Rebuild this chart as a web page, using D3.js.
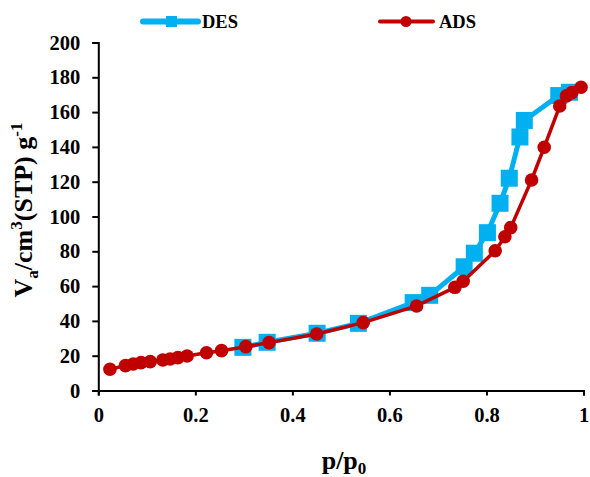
<!DOCTYPE html>
<html>
<head>
<meta charset="utf-8">
<script src="https://cdn.jsdelivr.net/npm/d3@7/dist/d3.min.js"></script>
<style>
  html, body { margin: 0; padding: 0; background: #fff; }
  svg text { font-family: "Liberation Serif", "Times New Roman", serif; font-weight: bold; }
</style>
</head>
<body>
<script>
// Data
const adsX = [0.024, 0.056, 0.072, 0.088, 0.107, 0.133, 0.148, 0.164, 0.183, 0.223, 0.254, 0.304, 0.352, 0.450, 0.546, 0.656, 0.735, 0.752, 0.818, 0.838, 0.850, 0.893, 0.919, 0.951, 0.965, 0.976, 0.995];
const adsY = [12.2, 14.3, 15.2, 16.0, 16.6, 17.5, 18.1, 18.9, 19.8, 21.7, 22.9, 25.2, 27.5, 32.5, 39.0, 48.6, 59.3, 62.8, 80.3, 88.4, 93.6, 121.0, 139.8, 163.5, 169.3, 171.2, 174.3];
const desX = [0.298, 0.348, 0.451, 0.536, 0.649, 0.683, 0.754, 0.775, 0.802, 0.828, 0.847, 0.869, 0.878, 0.949, 0.971];
const desY = [24.8, 27.7, 32.9, 38.6, 50.5, 54.7, 71.1, 78.9, 90.7, 107.6, 122.0, 145.7, 155.2, 169.5, 171.4];
const xTicks = [0, 0.2, 0.4, 0.6, 0.8, 1];
const xTickLabels = ["0", "0.2", "0.4", "0.6", "0.8", "1"];
const yTicks = [0, 20, 40, 60, 80, 100, 120, 140, 160, 180, 200];
const seriesNames = ["DES", "ADS"];
const seriesColors = ["#00B0F0", "#C00000"];

const W = 590, H = 477;
const margin = { left: 98.3, right: 6.5, top: 42.5, bottom: 86.5 };
const svg = d3.select("body").append("svg").attr("width", W).attr("height", H);

const x = d3.scaleLinear().domain([0, 1]).range([margin.left, W - margin.right]);
const y = d3.scaleLinear().domain([0, 200]).range([H - margin.bottom, margin.top]);

// axes
const xAxis = d3.axisBottom(x).tickValues(xTicks).tickFormat((d, i) => xTickLabels[i]).tickSize(5).tickSizeOuter(5).tickPadding(12);
const yAxis = d3.axisLeft(y).tickValues(yTicks).tickSize(6).tickSizeOuter(6).tickPadding(12);

const gx = svg.append("g").attr("transform", `translate(0,${y(0)})`).call(xAxis);
const gy = svg.append("g").attr("transform", `translate(${x(0)},0)`).call(yAxis);
[gx, gy].forEach(g => {
  g.selectAll("path, line").attr("stroke", "#000").attr("stroke-width", 2);
  g.selectAll("text").attr("fill", "#000").style("font-size", "20.5px").style("font-family", "'Liberation Serif', serif").style("font-weight", "bold");
});

const desData = desX.map((v, i) => [v, desY[i]]);
const adsData = adsX.map((v, i) => [v, adsY[i]]);
const line = d3.line().x(d => x(d[0])).y(d => y(d[1]));

// DES
svg.append("path").datum(desData).attr("d", line).attr("fill", "none")
  .attr("stroke", seriesColors[0]).attr("stroke-width", 5).attr("stroke-linejoin", "round");
const sq = 17;
svg.append("g").selectAll("rect").data(desData).join("rect")
  .attr("x", d => x(d[0]) - sq / 2).attr("y", d => y(d[1]) - sq / 2)
  .attr("width", sq).attr("height", sq).attr("fill", seriesColors[0]);

// ADS
svg.append("path").datum(adsData).attr("d", line).attr("fill", "none")
  .attr("stroke", seriesColors[1]).attr("stroke-width", 3.5).attr("stroke-linejoin", "round");
svg.append("g").selectAll("circle").data(adsData).join("circle")
  .attr("cx", d => x(d[0])).attr("cy", d => y(d[1])).attr("r", 6.8).attr("fill", seriesColors[1]);

// Legend
const leg = svg.append("g");
const ly = 21.5;
// DES
leg.append("line").attr("x1", 143).attr("x2", 198).attr("y1", ly).attr("y2", ly)
  .attr("stroke", seriesColors[0]).attr("stroke-width", 6).attr("stroke-linecap", "round");
leg.append("rect").attr("x", 166).attr("y", ly - 5.5).attr("width", 11).attr("height", 11).attr("fill", seriesColors[0]);
leg.append("text").attr("x", 202).attr("y", ly + 6.5).attr("font-size", 18.5).text(seriesNames[0]);
// ADS
leg.append("line").attr("x1", 380).attr("x2", 433).attr("y1", ly).attr("y2", ly)
  .attr("stroke", seriesColors[1]).attr("stroke-width", 4).attr("stroke-linecap", "round");
leg.append("circle").attr("cx", 406).attr("cy", ly).attr("r", 5.5).attr("fill", seriesColors[1]);
leg.append("text").attr("x", 439).attr("y", ly + 6.5).attr("font-size", 18.5).text(seriesNames[1]);

// Axis titles
const xt = svg.append("text").attr("x", 344).attr("y", 469).attr("text-anchor", "middle").attr("font-size", 26);
xt.append("tspan").text("p/p");
xt.append("tspan").attr("font-size", 17).attr("dy", 5).text("0");

const yt = svg.append("text").attr("transform", `translate(32,${210}) rotate(-90)`).attr("text-anchor", "middle").attr("font-size", 26);
yt.append("tspan").text("V");
yt.append("tspan").attr("font-size", 17).attr("dy", 6).text("a");
yt.append("tspan").attr("dy", -6).text("/cm");
yt.append("tspan").attr("font-size", 17).attr("dy", -10).text("3");
yt.append("tspan").attr("dy", 10).text("(STP) g");
yt.append("tspan").attr("font-size", 17).attr("dy", -10).text("-1");
</script>
</body>
</html>
